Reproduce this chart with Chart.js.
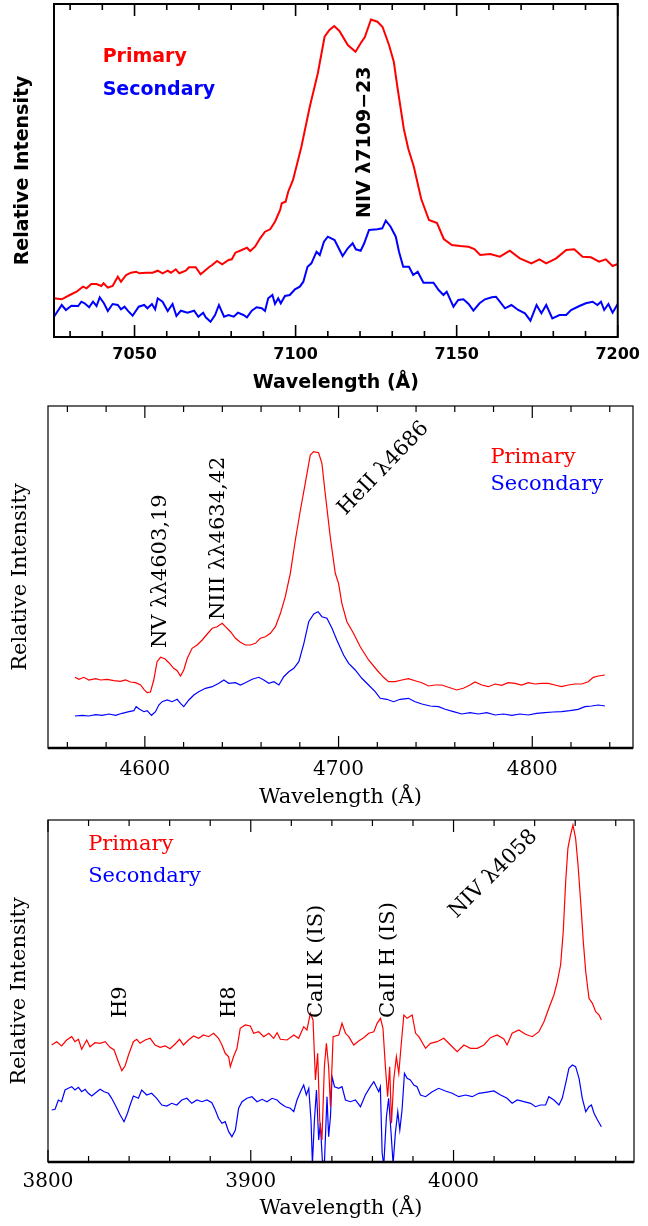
<!DOCTYPE html>
<html>
<head>
<meta charset="utf-8">
<script src="https://cdn.jsdelivr.net/npm/chart.js@4.4.1/dist/chart.umd.min.js"></script>
<style>
body { margin: 0; background: #fff; width: 648px; height: 1226px; position: relative; overflow: hidden; }
canvas { position: absolute; left: 0; }
</style>
</head>
<body>
<canvas id="c1" width="648" height="400" style="top:0"></canvas>
<canvas id="c2" width="648" height="410" style="top:400px"></canvas>
<canvas id="c3" width="648" height="416" style="top:810px"></canvas>
<script>
// ---- panel 1: NIV 7109-23 ----
const p1Wave = [7025, 7027.4, 7029.9, 7032, 7034, 7035.1, 7036.6, 7038.2, 7039.7, 7040.4, 7041.7, 7043.2, 7044.8, 7045.8, 7047.4, 7048.9, 7050.5, 7051.5, 7053.6, 7055.6, 7057.2, 7058.7, 7060.3, 7061.3, 7062.8, 7063.9, 7065.9, 7066.9, 7069, 7070.5, 7072.1, 7073.1, 7074.1, 7075.6, 7077.2, 7079.2, 7080.2, 7081.3, 7083.3, 7084.9, 7085.9, 7087.4, 7089, 7090.5, 7092.1, 7093.6, 7095.2, 7095.7, 7096.9, 7097.7, 7099.2, 7101.8, 7104.4, 7106.9, 7109, 7110.5, 7112, 7113.6, 7116.2, 7118.6, 7120.2, 7121.5, 7123.4, 7125.4, 7127, 7129, 7130.5, 7131.6, 7133.6, 7135, 7136.7, 7139, 7141.4, 7143.9, 7146, 7148.5, 7151.1, 7153.7, 7155.5, 7157.3, 7160.4, 7163.4, 7166.5, 7169.6, 7173.2, 7175.7, 7177.8, 7180.9, 7184, 7186.5, 7189.1, 7191.7, 7194.2, 7196.3, 7198.4, 7200];
const p1Primary = [38.7, 37.7, 42, 45.3, 50.3, 48.7, 53, 53, 51, 53.7, 49.3, 51, 60.3, 55.3, 62, 64.3, 65.3, 63.7, 64.3, 64.3, 66.3, 63.7, 66.3, 64.3, 67.7, 63.7, 66.3, 69.7, 69.7, 62.7, 67, 69.7, 72, 76, 72.7, 77, 77.7, 84.3, 87, 89.3, 86, 90.3, 98.7, 105.3, 107.7, 115.3, 127, 133.7, 135.3, 145.3, 157, 190.3, 230.3, 263.7, 300.3, 307, 311, 306, 292, 285.3, 293.7, 300, 317.5, 315.3, 310, 292, 275, 250, 208, 188, 170.3, 138, 117, 114, 98, 92, 91, 90.3, 88, 82, 83, 80.3, 86.3, 78.7, 73.7, 77.7, 73.7, 78.7, 87, 87.7, 80.3, 79.7, 75.3, 77.7, 71, 73];
const p1WaveB = [7025, 7027.4, 7028.7, 7030.4, 7032.5, 7033.5, 7034.5, 7035.9, 7037.1, 7038.2, 7039.2, 7040.5, 7041.7, 7043.2, 7044.8, 7045.8, 7046.9, 7047.9, 7049.4, 7051.3, 7053, 7054, 7055.4, 7056.4, 7057.2, 7058.7, 7060.3, 7061.8, 7063, 7064.4, 7066.4, 7068.5, 7069.8, 7071.3, 7072.1, 7073.6, 7075, 7076.2, 7077.8, 7079.2, 7080.8, 7082.1, 7083.8, 7084.9, 7086.4, 7087.9, 7089.5, 7090.5, 7091.5, 7092.8, 7093.6, 7094.6, 7095.4, 7096.7, 7098.2, 7099.8, 7101.3, 7102.4, 7103.7, 7104.9, 7106.5, 7107.5, 7108.8, 7110, 7112.1, 7114.6, 7116.2, 7117.7, 7118.7, 7120.2, 7121.3, 7122.8, 7125.4, 7126.9, 7128, 7129.5, 7131.1, 7132.1, 7133.4, 7135.2, 7136.5, 7137.9, 7139.7, 7142.8, 7144.4, 7145.9, 7146.9, 7149, 7150.5, 7152.1, 7153.7, 7155.2, 7157.1, 7158.8, 7160.9, 7162.2, 7163.4, 7165, 7167, 7169.1, 7171.2, 7172.9, 7174.8, 7176.3, 7177.8, 7179.7, 7181.9, 7184, 7185.5, 7188.1, 7190.1, 7192.2, 7193.7, 7194.8, 7195.8, 7197.1, 7198.4, 7200];
const p1Secondary = [20.3, 32, 27, 31.3, 31, 35.3, 33.7, 29.7, 35.3, 31, 39.7, 33.7, 26, 33, 32, 27.7, 30.3, 26.3, 21.3, 30.3, 32, 28.7, 33, 27.7, 38.7, 35.3, 26, 33, 21, 26.3, 24.3, 26.3, 20.3, 24.3, 19.7, 15.3, 22, 32, 20.3, 22, 20.3, 24.3, 22, 19.7, 26.3, 29.7, 28.7, 26, 38.7, 42, 33, 38.7, 33.7, 41, 42, 47.7, 50.3, 55.3, 70.3, 73.7, 85.3, 82, 95.3, 100.3, 97, 81, 88.7, 93.7, 87.7, 86.3, 93.7, 107, 107.7, 108.7, 116.3, 110.3, 100.3, 85.3, 70.3, 70.3, 62, 65.3, 54.3, 54.3, 47, 42, 45.3, 30.3, 37, 37.7, 33, 26.3, 33.7, 37.7, 39.7, 40.3, 35.3, 28.7, 32, 27, 23.7, 16.3, 32, 23.7, 32, 18.7, 22, 22, 27, 31, 33.7, 35.3, 32, 35.3, 27, 33, 24.3, 33];
const p1Ticks = [7050, 7100, 7150, 7200];

// ---- panel 2: NV, NIII, HeII 4686 ----
const p2Wave = [4563.9, 4566, 4568.5, 4571.1, 4574.6, 4577.1, 4580.6, 4584, 4587.4, 4590, 4592.6, 4595.2, 4597.8, 4599.5, 4601.2, 4602.9, 4604.6, 4606.3, 4608.1, 4610.3, 4612.4, 4614.9, 4616.7, 4618.4, 4620.1, 4621.9, 4624.4, 4627, 4629.6, 4632.2, 4634.8, 4637.3, 4639.9, 4641.6, 4644.2, 4646.8, 4649.3, 4651.9, 4654.5, 4657.1, 4659.6, 4662.2, 4664.8, 4667.4, 4670, 4672.5, 4675.1, 4677.7, 4680.3, 4682.8, 4685.4, 4687.1, 4689.7, 4691.4, 4693.1, 4695.7, 4698.3, 4700, 4701.7, 4704.3, 4707.7, 4711.2, 4715.5, 4719.8, 4723.2, 4725.8, 4729.2, 4732.7, 4736.1, 4739.5, 4743, 4746.4, 4749.8, 4753.3, 4756.7, 4761, 4764.4, 4767.9, 4770.4, 4773.9, 4777.3, 4780.8, 4784.2, 4787.6, 4791.1, 4794.5, 4798, 4801.4, 4804.8, 4808.3, 4811.7, 4815.1, 4818.6, 4822, 4825.5, 4828.9, 4831.5, 4834.1, 4837.5];
const p2Primary = [70.7, 68.7, 70.7, 68, 69.3, 68, 68.7, 67.3, 66.7, 68, 66, 65.3, 63, 58.7, 55.3, 56, 68, 86.3, 90.7, 89.3, 85.3, 79.7, 77.3, 72, 78, 89.7, 99.7, 103, 108, 114, 119.7, 121.3, 124.7, 121.3, 116.3, 109.7, 105.7, 103, 103, 104.7, 109.7, 111.3, 114.7, 121.3, 134.7, 151.3, 174.7, 208, 238, 264.7, 293, 296.3, 295.3, 284.7, 254.7, 211.3, 174.7, 164.7, 144.7, 126.3, 114.7, 101.3, 88, 78, 70.7, 66.3, 66.3, 68, 69.3, 67.3, 65.3, 62, 63, 63, 60.7, 58, 59.7, 63, 66, 63, 61.3, 64, 62.7, 65.3, 64.7, 63, 65.3, 64, 64.7, 64.7, 63, 61.3, 63, 64, 64, 66.3, 70.7, 72, 73];
const p2WaveB = [4563.9, 4567.7, 4571.1, 4574.6, 4578, 4581.5, 4584.9, 4588.3, 4591.8, 4594.3, 4595.5, 4597.3, 4599.5, 4601.2, 4603.4, 4605.5, 4607.2, 4608.9, 4611.5, 4614.1, 4616.7, 4618.4, 4620.1, 4622.7, 4625.3, 4627.8, 4631.3, 4634.8, 4638.2, 4640.8, 4643.3, 4646.8, 4649.3, 4651.9, 4655.4, 4658.8, 4661.4, 4664, 4666.6, 4669.2, 4671.7, 4674.3, 4676.9, 4679.5, 4682.1, 4684.6, 4687.2, 4689.4, 4691.4, 4694, 4696.6, 4699.1, 4702.6, 4705.2, 4708.6, 4712, 4715.5, 4718.9, 4721.5, 4724.9, 4728.4, 4731.8, 4736.1, 4739.5, 4743, 4747.3, 4751.6, 4755, 4759.3, 4763.6, 4767.9, 4772.2, 4776.5, 4780.8, 4785.1, 4789.4, 4793.6, 4798, 4802.2, 4806.5, 4810.8, 4815.1, 4819.4, 4823.7, 4827.2, 4830.6, 4834.1, 4837.5];
const p2Secondary = [32, 32.7, 32, 33.3, 32.7, 34, 32.7, 34.7, 36.3, 37.3, 41.3, 38.7, 36.3, 37.3, 32.7, 36.3, 43, 46.3, 48, 46.3, 48.7, 44.7, 41.3, 48, 53, 56.3, 59.7, 61.3, 64.7, 68, 64.7, 65.3, 63, 65.3, 68.7, 70.7, 68, 64.7, 66.3, 63, 71.3, 76.3, 79.7, 86.3, 104.7, 126.3, 134, 136.3, 131.3, 129.7, 119.7, 108, 93, 84.7, 78, 69.7, 63, 56.3, 49.7, 48.7, 46.3, 48.7, 49.7, 46.3, 44, 42, 41.3, 38.7, 36.3, 34, 35.3, 34, 35.3, 33, 34, 32.7, 34, 33, 34.7, 35.3, 36, 36.3, 37.3, 38.7, 41.3, 42, 43, 42];
const p2Ticks = [4600, 4700, 4800];

// ---- panel 3: H9, H8, CaII K/H, NIV 4058 ----
const p3Wave = [3801.8, 3804.3, 3806.7, 3809.2, 3811.7, 3813.3, 3815, 3816.6, 3819.1, 3820.7, 3823.2, 3825.7, 3828.2, 3830.6, 3832.6, 3834.7, 3836.4, 3838, 3839.7, 3842.1, 3843.8, 3845.4, 3847.9, 3850.4, 3852.8, 3855.3, 3857.8, 3860.2, 3862.7, 3864.9, 3866.8, 3869.3, 3871.8, 3874.3, 3876.7, 3879.2, 3881.7, 3884.1, 3885.8, 3887.4, 3889.1, 3889.9, 3891.5, 3893.2, 3894.8, 3897.3, 3899.8, 3901.4, 3903.9, 3906.4, 3908.9, 3911.3, 3913, 3914.6, 3917.9, 3921.2, 3923.6, 3926.1, 3927.7, 3929.4, 3930.7, 3931.9, 3933, 3934, 3935.1, 3936.3, 3937.3, 3938.4, 3939.3, 3940.6, 3943.4, 3945, 3946.7, 3948.3, 3950.8, 3953.2, 3955.7, 3958.2, 3960.7, 3962.3, 3964, 3965.2, 3966.4, 3967.5, 3968.5, 3969.4, 3970.5, 3971.8, 3973, 3974.1, 3975.5, 3977.1, 3979.6, 3981.3, 3982.9, 3986.2, 3988.6, 3991.9, 3995.2, 3998.5, 4001.8, 4005.1, 4008.4, 4011.7, 4015, 4018.2, 4021.5, 4024.8, 4026.4, 4028.9, 4032.2, 4035.5, 4038.8, 4042.1, 4044.6, 4047, 4049.5, 4051.2, 4052.8, 4054.1, 4055.3, 4056.4, 4057.7, 4058.9, 4060.2, 4061.4, 4062.7, 4064, 4065.2, 4066.8, 4068.5, 4070.1, 4071.8, 4072.9];
const p3Primary = [117, 120.3, 116, 122, 125.3, 120.3, 122.7, 112.7, 122, 115.3, 119.3, 118.7, 120.3, 114.7, 112, 100.3, 91.3, 96, 107, 120.3, 122.7, 118.7, 122, 123.7, 117, 114.7, 116, 113.3, 118, 122.7, 117, 122, 126, 123.7, 127, 125.3, 128.7, 123.7, 117, 108.7, 105.3, 95.3, 105.3, 113.7, 133.7, 137, 136, 128.7, 130.3, 125.3, 128.7, 123.7, 129.3, 122.7, 122, 127, 123.7, 135.3, 132, 148.7, 142, 82, 108.7, 42, 22, 95.3, 118.7, 95.3, 55.3, 125.3, 127, 138.7, 128.7, 125.3, 117, 121, 124.3, 128.7, 130.3, 138.7, 143.7, 133.7, 95.3, 65.3, 95.3, 38.7, 82, 105.3, 88.7, 115.3, 147, 143.7, 147, 128.7, 125.3, 113.7, 118.7, 120.3, 123.7, 117, 110.3, 117, 113.7, 113.7, 117, 124.3, 127, 123, 117, 128.7, 132, 127.7, 125.3, 130.3, 140.3, 153.7, 167, 180.3, 197, 230.3, 280.3, 313.7, 327, 337, 323.7, 297, 260.3, 220.3, 190.3, 163.7, 158.7, 150.3, 147, 142];
const p3WaveB = [3801.8, 3803.5, 3805.1, 3806.7, 3808.4, 3810, 3811.7, 3813.3, 3815, 3816.6, 3818.3, 3819.9, 3821.6, 3823.2, 3825.7, 3827.7, 3829.8, 3831.4, 3833.6, 3835.6, 3837.5, 3839.2, 3840.5, 3842.1, 3844.6, 3846.2, 3848.7, 3851.1, 3853.6, 3856.1, 3858.6, 3861, 3863.5, 3866, 3868.5, 3870.9, 3873.4, 3875.9, 3878.4, 3880.8, 3882.5, 3884.1, 3885.8, 3887.4, 3889.1, 3890.7, 3892.4, 3894, 3895.7, 3898.1, 3900.6, 3903.1, 3905.6, 3908, 3910.5, 3913, 3914.6, 3917.1, 3919.5, 3921.2, 3922.8, 3924.5, 3926.1, 3927.4, 3928.6, 3929.7, 3930.4, 3931.4, 3932.4, 3933.5, 3934.3, 3935.3, 3936.3, 3937.6, 3938.4, 3939.3, 3940.1, 3941.3, 3943.4, 3945, 3946.7, 3949.1, 3951.6, 3954.1, 3956.5, 3959, 3960.7, 3963.1, 3963.9, 3964.8, 3965.6, 3966.9, 3968, 3969.2, 3970.2, 3971.3, 3972.5, 3973.5, 3974.6, 3975.8, 3977.1, 3978.7, 3980.4, 3982, 3983.7, 3986.2, 3989.5, 3992.7, 3996, 3999.3, 4002.6, 4005.9, 4009.2, 4012.5, 4015.8, 4019.9, 4023.2, 4026.4, 4028.9, 4031.4, 4034.7, 4038, 4040.4, 4042.9, 4045.4, 4047, 4049.5, 4052, 4053.6, 4055.3, 4056.9, 4058.6, 4060.2, 4061.9, 4063.5, 4065.2, 4066.8, 4068, 4069.3, 4071, 4072.9];
const p3Secondary = [52, 52.7, 62, 60.3, 72, 73.7, 75.3, 72, 74.7, 70.3, 72.7, 68.7, 66, 68.7, 72.7, 70.3, 68.7, 63.7, 55.3, 47, 40.3, 48.7, 57, 66, 63.7, 72, 67, 68.7, 63.7, 57, 56, 58.7, 57, 62, 63.7, 58.7, 62, 60.3, 62, 59.3, 52, 43.7, 38.7, 40.3, 30.3, 25.3, 32, 53.7, 60.3, 63.7, 65.3, 60.3, 62.7, 60.3, 63.7, 62, 58.7, 55.3, 53.7, 50.3, 62, 70.3, 77, 67, 73.7, 42, -2, 42, 72, 22, 38.7, 2, -2, 65.3, 25.3, 45.3, 85.3, 75.3, 73.7, 75.3, 62, 60.3, 62, 55.3, 67, 75.3, 80.3, 70.3, 75.3, 8.7, -3, 45.3, 63.7, 28.7, -2, 28.7, 50.3, 32, 52, 88.7, 83.7, 82, 77, 75.3, 67, 65.3, 70.3, 73.7, 71, 68.7, 65.3, 67, 65.3, 68.7, 69.7, 71, 67, 63.7, 58.7, 62, 60.3, 58.7, 55.3, 57, 57, 65.3, 62, 57, 63.7, 78.7, 93.7, 97, 95.3, 83.7, 63.7, 50.3, 55.3, 57, 48.7, 42, 35.3];
const p3Ticks = [3800, 3900, 4000];

const RED = '#ff0000', BLUE = '#0000ff';

// frame, inward tick marks and text labels
const decor = {
  id: 'decor',
  afterDraw(chart, args, o) {
    const { ctx, chartArea: a, scales: { x, y } } = chart;
    ctx.save();
    ctx.strokeStyle = '#000';
    ctx.lineWidth = o.frame;
    ctx.strokeRect(a.left, a.top, a.right - a.left, a.bottom - a.top);
    ctx.lineWidth = o.bottom;
    ctx.beginPath(); ctx.moveTo(a.left, a.bottom); ctx.lineTo(a.right, a.bottom); ctx.stroke();
    ctx.lineWidth = o.tickW;
    ctx.beginPath();
    for (let v = Math.ceil(x.min / o.minor) * o.minor; v <= x.max + 0.01; v += o.minor) {
      const px = x.getPixelForValue(v);
      const len = Math.abs(v % o.major) < 0.01 ? 12 : 6;
      ctx.moveTo(px, a.bottom); ctx.lineTo(px, a.bottom - len);
      ctx.moveTo(px, a.top); ctx.lineTo(px, a.top + len);
    }
    ctx.stroke();
    for (const t of o.labels) {
      ctx.save();
      ctx.translate(x.getPixelForValue(t.x), y.getPixelForValue(t.y));
      ctx.rotate((t.rot || 0) * Math.PI / 180);
      ctx.font = o.font;
      ctx.fillStyle = t.color || '#000';
      ctx.textAlign = 'left';
      ctx.textBaseline = 'middle';
      ctx.fillText(t.text, 0, 0);
      ctx.restore();
    }
    ctx.restore();
  }
};

function series(xs, ys, color, w) {
  return { data: xs.map((v, i) => ({ x: v, y: ys[i] })), borderColor: color, borderWidth: w,
           pointRadius: 0, tension: 0, fill: false };
}

function panel(id, p) {
  new Chart(document.getElementById(id), {
    type: 'line',
    data: { datasets: [series(p.xr, p.yr, RED, p.lw), series(p.xb, p.yb, BLUE, p.lw)] },
    options: {
      responsive: false,
      animation: false,
      layout: { padding: { left: 0, top: p.box[1], right: 648 - p.box[2], bottom: 0 } },
      plugins: { legend: { display: false }, tooltip: { enabled: false }, decor: p.decor },
      scales: {
        x: {
          type: 'linear', min: p.xmin, max: p.xmax,
          afterBuildTicks: s => { s.ticks = p.ticks.map(v => ({ value: v })); },
          ticks: { font: p.tickFont, color: '#000', padding: p.tickPad, maxRotation: 0, autoSkip: false,
                   callback: v => String(v) },
          grid: { display: false, drawTicks: false },
          border: { display: false },
          title: { display: true, text: 'Wavelength (Å)', font: p.titleFont, color: '#000', padding: { top: 0, bottom: p.xTitlePad } },
          afterFit: s => { s.height = p.axisH; }
        },
        y: {
          min: 0, max: p.ymax,
          ticks: { display: false },
          grid: { display: false, drawTicks: false },
          border: { display: false },
          title: { display: true, text: 'Relative Intensity', font: p.titleFont, color: '#000', padding: { top: p.yTitlePad, bottom: 0 } },
          afterFit: s => { s.width = p.box[0]; }
        }
      }
    },
    plugins: [decor]
  });
}

const sansB = s => ({ family: 'DejaVu Sans', size: s, weight: 'bold' });
const serif = s => ({ family: 'DejaVu Serif', size: s, weight: 'normal' });

panel('c1', {
  xr: p1Wave, yr: p1Primary, xb: p1WaveB, yb: p1Secondary, lw: 2,
  xmin: 7025, xmax: 7200, ymax: 333, ticks: p1Ticks, box: [54, 4, 622], axisH: 63,
  tickFont: sansB(16), tickPad: 8, titleFont: sansB(19), xTitlePad: 6, yTitlePad: 12,
  decor: { frame: 2, bottom: 2, tickW: 1.6, minor: 10, major: 50, font: 'bold 19px "DejaVu Sans"',
    labels: [
      { text: 'Primary', x: 7040.1, y: 280, color: RED },
      { text: 'Secondary', x: 7040.1, y: 247, color: BLUE },
      { text: 'NIV λ7109−23', x: 7121.5, y: 119, rot: -90 }
    ] }
});

panel('c2', {
  xr: p2Wave, yr: p2Primary, xb: p2WaveB, yb: p2Secondary, lw: 1.2,
  xmin: 4550, xmax: 4852, ymax: 342, ticks: p2Ticks, box: [48, 6, 633], axisH: 62,
  tickFont: serif(20), tickPad: 10, titleFont: serif(21), xTitlePad: 0, yTitlePad: 8,
  decor: { frame: 1.2, bottom: 2.5, tickW: 1.2, minor: 20, major: 100, font: '21px "DejaVu Serif"',
    labels: [
      { text: 'Primary', x: 4778.4, y: 290, color: RED },
      { text: 'Secondary', x: 4778.4, y: 263, color: BLUE },
      { text: 'NV λλ4603,19', x: 4608.2, y: 100, rot: -90 },
      { text: 'NIII λλ4634,42', x: 4638.1, y: 128, rot: -90 },
      { text: 'HeII λ4686', x: 4701.5, y: 236, rot: -46 }
    ] }
});

panel('c3', {
  xr: p3Wave, yr: p3Primary, xb: p3WaveB, yb: p3Secondary, lw: 1.2,
  xmin: 3800, xmax: 4089, ymax: 342, ticks: p3Ticks, box: [48, 10, 634], axisH: 64,
  tickFont: serif(20), tickPad: 8, titleFont: serif(21), xTitlePad: 5, yTitlePad: 7,
  decor: { frame: 1.2, bottom: 2.5, tickW: 1.2, minor: 20, major: 100, font: '21px "DejaVu Serif"',
    labels: [
      { text: 'Primary', x: 3819.8, y: 317, color: RED },
      { text: 'Secondary', x: 3819.8, y: 285, color: BLUE },
      { text: 'H9', x: 3836, y: 144, rot: -90 },
      { text: 'H8', x: 3889.4, y: 144, rot: -90 },
      { text: 'CaII K (IS)', x: 3932.3, y: 144, rot: -90 },
      { text: 'CaII H (IS)', x: 3967.9, y: 144, rot: -90 },
      { text: 'NIV λ4058', x: 3999.5, y: 247, rot: -45 }
    ] }
});
</script>
</body>
</html>
